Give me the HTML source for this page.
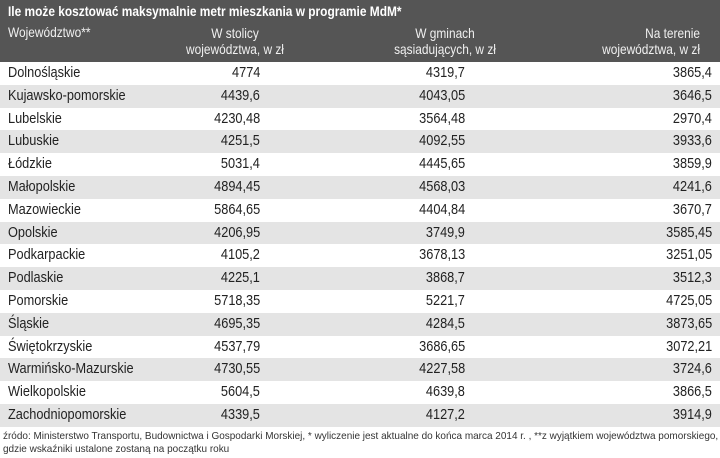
<!DOCTYPE html>
<html><head><meta charset="utf-8"><style>
body{margin:0;width:720px;height:458px;background:#fff;overflow:hidden;font-family:"Liberation Sans",sans-serif;}
.hdr{position:absolute;left:0;top:0;width:720px;height:62px;background:#555555;color:#fff;}
.title{position:absolute;left:8px;top:3px;font-weight:bold;font-size:14px;white-space:nowrap;transform:scaleX(0.85);transform-origin:left;}
.h{position:absolute;font-size:14px;line-height:16px;color:#f0f0f0;white-space:nowrap;transform:scaleX(0.85);}
.row{position:absolute;left:0;width:720px;height:22.8px;font-size:15px;color:#222;line-height:22.8px;}
.row span{position:absolute;white-space:nowrap;transform:scaleX(0.85);}
.row span.l{transform-origin:left;}
.row span.r{transform-origin:right;}
.foot{position:absolute;left:3px;top:430px;font-size:10.5px;line-height:13px;color:#333;white-space:nowrap;transform:scaleX(0.95);transform-origin:left;}
</style></head><body>
<div class="hdr">
<div class="title">Ile może kosztować maksymalnie metr mieszkania w programie MdM*</div>
<div class="h" style="left:8px;top:24px;transform-origin:left">Województwo**</div>
<div class="h" style="left:160px;width:150px;top:25px;text-align:center">W stolicy<br>województwa, w zł</div>
<div class="h" style="left:365px;width:160px;top:25px;text-align:center">W gminach<br>sąsiadujących, w zł</div>
<div class="h" style="left:540px;width:160px;top:25px;text-align:right;transform-origin:right">Na terenie<br>województwa, w zł</div>
</div>
<div id="rows"></div>
<div class="foot">źródo: Ministerstwo Transportu, Budownictwa i Gospodarki Morskiej, * wyliczenie jest aktualne do końca marca 2014 r. , **z wyjątkiem województwa pomorskiego,<br>gdzie wskaźniki ustalone zostaną na początku roku</div>
<script>
const regions=["Dolnośląskie","Kujawsko-pomorskie","Lubelskie","Lubuskie","Łódzkie","Małopolskie","Mazowieckie","Opolskie","Podkarpackie","Podlaskie","Pomorskie","Śląskie","Świętokrzyskie","Warmińsko-Mazurskie","Wielkopolskie","Zachodniopomorskie"];
const capital=["4774","4439,6","4230,48","4251,5","5031,4","4894,45","5864,65","4206,95","4105,2","4225,1","5718,35","4695,35","4537,79","4730,55","5604,5","4339,5"];
const neighbor=["4319,7","4043,05","3564,48","4092,55","4445,65","4568,03","4404,84","3749,9","3678,13","3868,7","5221,7","4284,5","3686,65","4227,58","4639,8","4127,2"];
const region=["3865,4","3646,5","2970,4","3933,6","3859,9","4241,6","3670,7","3585,45","3251,05","3512,3","4725,05","3873,65","3072,21","3724,6","3866,5","3914,9"];
const c=document.getElementById('rows');
regions.forEach((r,i)=>{
 const d=document.createElement('div');
 d.className='row';
 
 
 d.style.top=(62+i*22.8)+'px';
 d.style.background=i%2?'#e4e4e4':'#fff';
 d.innerHTML='<span class="l" style="left:8px">'+r+'</span><span class="r" style="right:460px">'+capital[i]+'</span><span class="r" style="right:255px">'+neighbor[i]+'</span><span class="r" style="right:8px">'+region[i]+'</span>';
 c.appendChild(d);
});
</script>
</body></html>
